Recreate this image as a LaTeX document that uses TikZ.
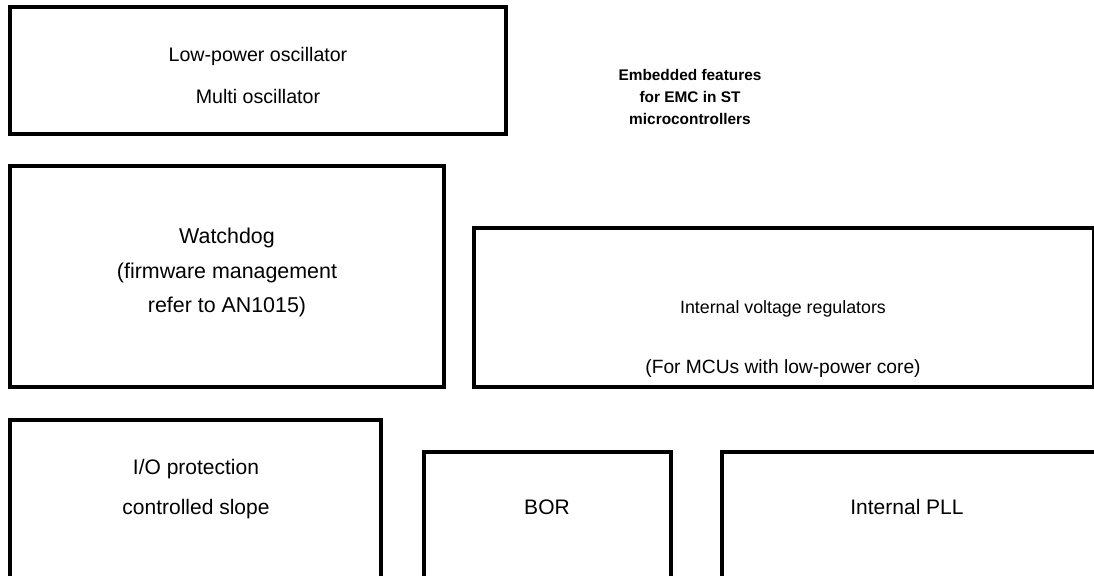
\documentclass[tikz,border=0pt]{standalone}
\usepackage{fontspec}
\setmainfont{Liberation Sans}
\begin{document}
\begin{tikzpicture}[x=0.5pt,y=-0.5pt,
  box/.style={draw=black,line width=2pt},
  lbla/.style={anchor=base,inner sep=0pt,font=\fontsize{9.8}{12}\selectfont},
  lbl/.style={anchor=base,inner sep=0pt,font=\fontsize{10.7}{12}\selectfont},
  lblv/.style={anchor=base,inner sep=0pt,font=\fontsize{8.9}{10}\selectfont},
  lblw/.style={anchor=base,inner sep=0pt,font=\fontsize{9.6}{10}\selectfont},
  lblb/.style={anchor=base,inner sep=0pt,font=\fontsize{10.5}{11}\selectfont},
  ttl/.style={anchor=base,inner sep=0pt,font=\fontsize{7.7}{9}\selectfont\bfseries}]
\useasboundingbox (0,0) rectangle (1094,575);
\clip (0,0) rectangle (1094,575);
\fill[white] (0,0) rectangle (1094,575);
% boxes
\draw[box] (10,7) rectangle (506,134);
\draw[box] (10,166) rectangle (444,387);
\draw[box] (474,228) rectangle (1094,387);
\draw[box] (10,420) rectangle (381,600);
\draw[box] (424,452) rectangle (671,600);
\draw[box] (722,452) rectangle (1110,600);
% texts
\node[lbla] (osc1) at (258,61) {Low-power oscillator};
\node[lbla] (osc2) at (258,103) {Multi oscillator};
\node[ttl] (t1) at (690,80) {Embedded features};
\node[ttl] (t2) at (690,102) {for EMC in ST};
\node[ttl] (t3) at (690,124) {microcontrollers};
\node[lbl] (wd1) at (227,243) {Watchdog};
\node[lbl] (wd2) at (227,278) {(firmware management};
\node[lbl] (wd3) at (227,312) {refer to AN1015)};
\node[lblv] (vr1) at (783,313) {Internal voltage regulators};
\node[lblw] (vr2) at (783,373) {(For MCUs with low-power core)};
\node[lblb] (io1) at (196,474) {I/O protection};
\node[lblb] (io2) at (196,514) {controlled slope};
\node[lblb] (bor) at (547,514) {BOR};
\node[lblb] (pll) at (907,514) {Internal PLL};
\end{tikzpicture}
\end{document}
